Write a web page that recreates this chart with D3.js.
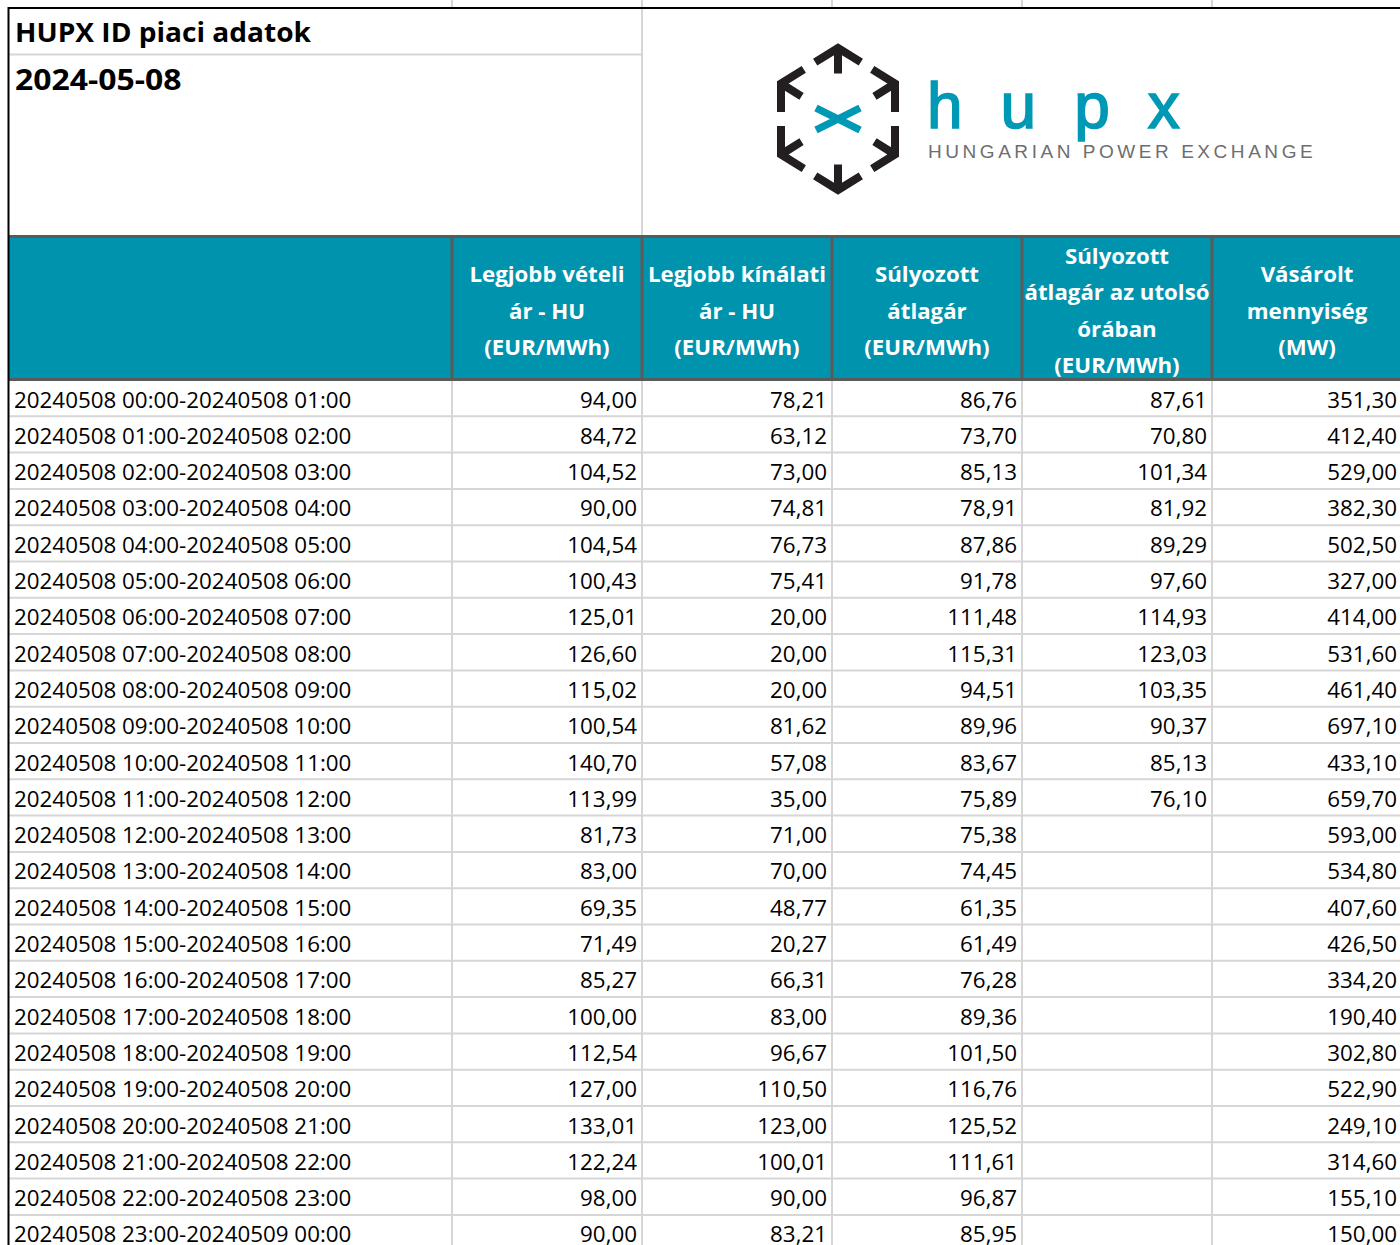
<!DOCTYPE html>
<html>
<head>
<meta charset="utf-8">
<script src="https://cdn.jsdelivr.net/npm/d3@7"></script>
<style>
  html, body { margin: 0; padding: 0; background: #fff; }
  svg { display: block; }
</style>
</head>
<body>
<div id="tabla"></div>
<script>
// adatok
const title = "HUPX ID piaci adatok";
const dateLabel = "2024-05-08";

const periods = [
  "20240508 00:00-20240508 01:00", "20240508 01:00-20240508 02:00",
  "20240508 02:00-20240508 03:00", "20240508 03:00-20240508 04:00",
  "20240508 04:00-20240508 05:00", "20240508 05:00-20240508 06:00",
  "20240508 06:00-20240508 07:00", "20240508 07:00-20240508 08:00",
  "20240508 08:00-20240508 09:00", "20240508 09:00-20240508 10:00",
  "20240508 10:00-20240508 11:00", "20240508 11:00-20240508 12:00",
  "20240508 12:00-20240508 13:00", "20240508 13:00-20240508 14:00",
  "20240508 14:00-20240508 15:00", "20240508 15:00-20240508 16:00",
  "20240508 16:00-20240508 17:00", "20240508 17:00-20240508 18:00",
  "20240508 18:00-20240508 19:00", "20240508 19:00-20240508 20:00",
  "20240508 20:00-20240508 21:00", "20240508 21:00-20240508 22:00",
  "20240508 22:00-20240508 23:00", "20240508 23:00-20240509 00:00"
];

const headers = [
  ["Legjobb vételi", "ár - HU", "(EUR/MWh)"],
  ["Legjobb kínálati", "ár - HU", "(EUR/MWh)"],
  ["Súlyozott", "átlagár", "(EUR/MWh)"],
  ["Súlyozott", "átlagár az utolsó", "órában", "(EUR/MWh)"],
  ["Vásárolt", "mennyiség", "(MW)"]
];

const bestBid = [94.00, 84.72, 104.52, 90.00, 104.54, 100.43, 125.01, 126.60, 115.02, 100.54, 140.70, 113.99,
  81.73, 83.00, 69.35, 71.49, 85.27, 100.00, 112.54, 127.00, 133.01, 122.24, 98.00, 90.00];
const bestAsk = [78.21, 63.12, 73.00, 74.81, 76.73, 75.41, 20.00, 20.00, 20.00, 81.62, 57.08, 35.00,
  71.00, 70.00, 48.77, 20.27, 66.31, 83.00, 96.67, 110.50, 123.00, 100.01, 90.00, 83.21];
const weightedAvg = [86.76, 73.70, 85.13, 78.91, 87.86, 91.78, 111.48, 115.31, 94.51, 89.96, 83.67, 75.89,
  75.38, 74.45, 61.35, 61.49, 76.28, 89.36, 101.50, 116.76, 125.52, 111.61, 96.87, 85.95];
const weightedAvgLastHour = [87.61, 70.80, 101.34, 81.92, 89.29, 97.60, 114.93, 123.03, 103.35, 90.37, 85.13, 76.10,
  null, null, null, null, null, null, null, null, null, null, null, null];
const boughtVolume = [351.30, 412.40, 529.00, 382.30, 502.50, 327.00, 414.00, 531.60, 461.40, 697.10, 433.10, 659.70,
  593.00, 534.80, 407.60, 426.50, 334.20, 190.40, 302.80, 522.90, 249.10, 314.60, 155.10, 150.00];

const columns = [bestBid, bestAsk, weightedAvg, weightedAvgLastHour, boughtVolume];

// meretek
const W = 1400;
const H = 1245;
const leftX = 9;
const topY = 8;
const headTop = 237;
const headBottom = 380;
const rowH = 36.3;
const firstColRight = 452;
const colW = 190;
const sx = 1.065; // a kep vizszintesen nyujtott

const teal = "#0093ae";
const darkLine = "#5a5a5a";
const grid = "#d6d6d6";
const font = "'Open Sans', 'Liberation Sans', sans-serif";

const hu = d3.formatLocale({ decimal: ",", thousands: " ", grouping: [3] });
const fmt = hu.format(".2f");

const svg = d3.select("#tabla").append("svg")
  .attr("width", W)
  .attr("height", H);

const rowIdx = d3.range(periods.length);
const y = d3.scaleBand().domain(rowIdx).range([headBottom, headBottom + periods.length * rowH]);
const x = d3.scaleBand().domain(d3.range(columns.length)).range([firstColRight, firstColRight + columns.length * colW]);
const colEdges = x.domain().map(i => x(i));

function stretch(sel, tx, ty, k = sx) {
  sel.attr("transform", `translate(${tx},${ty}) scale(${k},1)`);
}

// racsvonalak a felso szegely felett
svg.append("g").selectAll("line")
  .data(colEdges)
  .join("line")
  .attr("x1", d => d).attr("x2", d => d)
  .attr("y1", 0).attr("y2", topY)
  .attr("stroke", grid).attr("stroke-width", 2);

// cim blokk racsai
svg.append("line")
  .attr("x1", leftX).attr("x2", firstColRight + colW)
  .attr("y1", 54.5).attr("y2", 54.5)
  .attr("stroke", grid).attr("stroke-width", 2);
svg.append("line")
  .attr("x1", firstColRight + colW).attr("x2", firstColRight + colW)
  .attr("y1", topY).attr("y2", headTop)
  .attr("stroke", grid).attr("stroke-width", 2);

// cim
svg.append("text")
  .call(stretch, 15, 42, 1.06)
  .attr("font-family", font).attr("font-weight", 700).attr("font-size", 26.5)
  .attr("fill", "#000")
  .text(title);
svg.append("text")
  .call(stretch, 15, 90, 1.12)
  .attr("font-family", font).attr("font-weight", 700).attr("font-size", 28.5)
  .attr("fill", "#000")
  .text(dateLabel);

// logo
const logo = svg.append("g");
const cx = 838, cy = 119, rx = 57, ry = 71;
const verts = d3.range(6).map(k => {
  const a = (-90 + k * 60) * Math.PI / 180;
  return [cx + rx * Math.cos(a) / Math.cos(Math.PI / 6) * (k % 3 === 0 ? 0 : 1), cy + ry * Math.sin(a)];
});
const lerp = (p, q, t) => [p[0] + (q[0] - p[0]) * t, p[1] + (q[1] - p[1]) * t];
verts.forEach((v, k) => {
  const prev = verts[(k + 5) % 6];
  const next = verts[(k + 1) % 6];
  const a1 = lerp(v, prev, 0.4);
  const a2 = lerp(v, next, 0.4);
  const s = lerp(v, [cx, cy], 0.36);
  const p = d3.path();
  p.moveTo(a1[0], a1[1]); p.lineTo(v[0], v[1]); p.lineTo(a2[0], a2[1]);
  p.moveTo(v[0], v[1]); p.lineTo(s[0], s[1]);
  logo.append("path")
    .attr("d", p.toString())
    .attr("fill", "none")
    .attr("stroke", "#231f20")
    .attr("stroke-width", 8)
    .attr("stroke-linejoin", "miter");
});
const xp = d3.path();
xp.moveTo(cx - 22, cy - 11); xp.lineTo(cx + 22, cy + 11);
xp.moveTo(cx - 22, cy + 11); xp.lineTo(cx + 22, cy - 11);
logo.append("path").attr("d", xp.toString())
  .attr("stroke", "#0099b5").attr("stroke-width", 7.5).attr("fill", "none");

logo.append("text")
  .attr("x", 927).attr("y", 128)
  .attr("font-family", "'Liberation Sans', Arial, sans-serif")
  .attr("font-size", 64)
  .attr("letter-spacing", 38)
  .attr("fill", "#0099b5")
  .attr("stroke", "#0099b5").attr("stroke-width", 1.6)
  .text("hupx");
logo.append("text")
  .attr("x", 928).attr("y", 158)
  .attr("font-family", "'Liberation Sans', Arial, sans-serif")
  .attr("font-size", 19)
  .attr("letter-spacing", 3.55)
  .attr("fill", "#6d6e71")
  .text("HUNGARIAN POWER EXCHANGE");

// fejlec
svg.append("rect")
  .attr("x", leftX).attr("y", headTop)
  .attr("width", W - leftX).attr("height", headBottom - headTop)
  .attr("fill", teal);
svg.append("g").selectAll("line")
  .data([headTop - 0.5, headBottom - 0.5])
  .join("line")
  .attr("x1", leftX).attr("x2", W)
  .attr("y1", d => d).attr("y2", d => d)
  .attr("stroke", darkLine).attr("stroke-width", 3);
svg.append("g").selectAll("line")
  .data(colEdges)
  .join("line")
  .attr("x1", d => d).attr("x2", d => d)
  .attr("y1", headTop).attr("y2", headBottom)
  .attr("stroke", darkLine).attr("stroke-width", 3);

const headMid = 311;
headers.forEach((lines, c) => {
  const tx = x(c) + colW / 2;
  lines.forEach((ln, i) => {
    const ty = headMid + (i - (lines.length - 1) / 2) * rowH + 7.5;
    svg.append("text")
      .call(stretch, tx, ty, 1.06)
      .attr("text-anchor", "middle")
      .attr("font-family", font).attr("font-weight", 700).attr("font-size", 21)
      .attr("fill", "#fff")
      .text(ln);
  });
});

// adat racsok
const body = svg.append("g");
const bodyBottom = headBottom + periods.length * rowH;
body.selectAll("line.h")
  .data(rowIdx.slice(1))
  .join("line")
  .attr("class", "h")
  .attr("x1", leftX).attr("x2", W)
  .attr("y1", d => y(d)).attr("y2", d => y(d))
  .attr("stroke", grid).attr("stroke-width", 2);
body.selectAll("line.v")
  .data(colEdges)
  .join("line")
  .attr("class", "v")
  .attr("x1", d => d).attr("x2", d => d)
  .attr("y1", headBottom + 1).attr("y2", bodyBottom)
  .attr("stroke", grid).attr("stroke-width", 2);

// idoszak cimkek
body.selectAll("text.lbl")
  .data(periods)
  .join("text")
  .attr("class", "lbl")
  .each(function (d, i) { d3.select(this).call(stretch, 14, y(i) + 27.5); })
  .attr("font-family", font).attr("font-size", 21)
  .attr("fill", "#000")
  .text(d => d);

// ertekek
columns.forEach((vals, c) => {
  body.append("g").selectAll("text")
    .data(vals.map((v, i) => ({ v, i })).filter(d => d.v !== null))
    .join("text")
    .each(function (d) { d3.select(this).call(stretch, x(c) + colW - 5, y(d.i) + 27.5); })
    .attr("text-anchor", "end")
    .attr("font-family", font).attr("font-size", 21)
    .attr("fill", "#000")
    .text(d => fmt(d.v));
});

// kulso szegelyek
svg.append("line")
  .attr("x1", leftX - 1).attr("x2", W)
  .attr("y1", topY).attr("y2", topY)
  .attr("stroke", "#000").attr("stroke-width", 2);
svg.append("line")
  .attr("x1", leftX - 0.5).attr("x2", leftX - 0.5)
  .attr("y1", topY - 1).attr("y2", H)
  .attr("stroke", "#000").attr("stroke-width", 2);
</script>
</body>
</html>
